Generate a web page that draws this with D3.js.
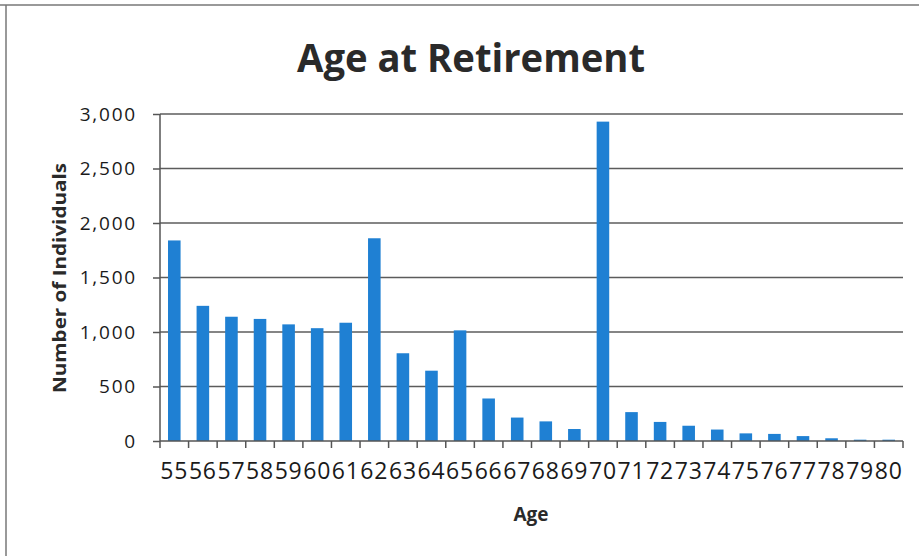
<!DOCTYPE html>
<html>
<head>
<meta charset="utf-8">
<script src="https://cdn.jsdelivr.net/npm/d3@7"></script>
<style>
  html, body { margin: 0; padding: 0; background: #fff; }
  svg { display: block; }
</style>
</head>
<body>
<svg id="chart" width="919" height="556"></svg>
<script>
// Retirement ages and head counts
const ages = ["55","56","57","58","59","60","61","62","63","64","65","66","67",
              "68","69","70","71","72","73","74","75","76","77","78","79","80"];
const individuals = [1840,1240,1140,1120,1070,1035,1085,1860,805,645,1015,390,215,
                     180,110,2930,265,175,140,105,70,65,45,25,12,12];
const yTicks = [0,500,1000,1500,2000,2500,3000];

const svg = d3.select("#chart");
const plotLeft = 160, plotRight = 903, plotTop = 114, plotBottom = 441;
const fontFace = "'Open Sans', 'Noto Sans', sans-serif";

// Frame around the chart area
svg.append("line").attr("x1", 0).attr("x2", 919).attr("y1", 5).attr("y2", 5)
  .attr("stroke", "#777").attr("stroke-width", 1.5);
svg.append("line").attr("x1", 6).attr("x2", 6).attr("y1", 5).attr("y2", 556)
  .attr("stroke", "#777").attr("stroke-width", 1.5);

const x = d3.scaleBand().domain(ages).range([plotLeft, plotRight])
  .paddingInner(0.56).paddingOuter(0.28);
const y = d3.scaleLinear().domain([0, 3000]).range([plotBottom, plotTop]);

// Horizontal gridlines
svg.append("g").selectAll("line").data(yTicks.filter(d => d > 0)).join("line")
  .attr("x1", plotLeft).attr("x2", plotRight)
  .attr("y1", d => y(d)).attr("y2", d => y(d))
  .attr("stroke", "#5c5c5c").attr("stroke-width", 1.6);

// Bars
svg.append("g").selectAll("rect").data(ages).join("rect")
  .attr("x", d => x(d))
  .attr("width", x.bandwidth())
  .attr("y", (d, i) => y(individuals[i]))
  .attr("height", (d, i) => y(0) - y(individuals[i]))
  .attr("fill", "#1f80d3");

// Y axis
const yAxis = d3.axisLeft(y).tickValues(yTicks).tickSize(7).tickPadding(16)
  .tickFormat(d3.format(","));
const gy = svg.append("g").attr("transform", `translate(${plotLeft},0)`).call(yAxis);
gy.select(".domain").attr("stroke", "#555").attr("stroke-width", 1.5).attr("d", `M0,${plotTop}V${plotBottom}`);
gy.selectAll(".tick line").attr("stroke", "#555").attr("stroke-width", 1.5);
gy.selectAll(".tick text").attr("font-family", fontFace).attr("font-size", 19)
  .attr("letter-spacing", 1.8).attr("fill", "#1a1a1a");

// X axis: ticks sit on category boundaries
const step = x.step();
const boundaries = d3.range(ages.length + 1).map(i => plotLeft + i * step);
const gx = svg.append("g");
gx.append("line").attr("x1", plotLeft).attr("x2", plotRight).attr("y1", plotBottom).attr("y2", plotBottom)
  .attr("stroke", "#555").attr("stroke-width", 1.5);
gx.selectAll("line.tick").data(boundaries).join("line").attr("class", "tick")
  .attr("x1", d => d).attr("x2", d => d).attr("y1", plotBottom).attr("y2", plotBottom + 7)
  .attr("stroke", "#555").attr("stroke-width", 1.5);
gx.selectAll("text").data(ages).join("text")
  .attr("x", d => x(d) + x.bandwidth() / 2).attr("y", 479)
  .attr("text-anchor", "middle")
  .attr("font-family", fontFace).attr("font-size", 23).attr("letter-spacing", 0.8)
  .attr("fill", "#1a1a1a").text(d => d);

// Titles
svg.append("text").attr("x", 471).attr("y", 72).attr("text-anchor", "middle")
  .attr("font-family", fontFace).attr("font-weight", 700).attr("font-size", 39)
  .attr("textLength", 348).attr("lengthAdjust", "spacingAndGlyphs")
  .attr("fill", "#2a2a2a").text("Age at Retirement");

svg.append("text").attr("x", 531).attr("y", 521).attr("text-anchor", "middle")
  .attr("font-family", fontFace).attr("font-weight", 700).attr("font-size", 19)
  .attr("fill", "#2a2a2a").text("Age");

svg.append("text").attr("transform", "translate(66,278) rotate(-90)")
  .attr("text-anchor", "middle")
  .attr("font-family", fontFace).attr("font-weight", 700).attr("font-size", 18)
  .attr("textLength", 230).attr("lengthAdjust", "spacingAndGlyphs")
  .attr("fill", "#2a2a2a").text("Number of Individuals");
</script>
</body>
</html>
